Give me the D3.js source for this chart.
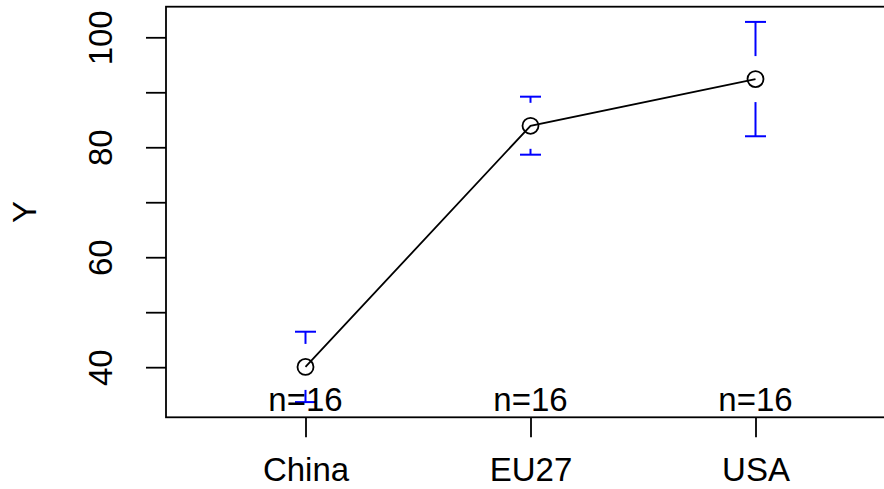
<!DOCTYPE html>
<html>
<head>
<meta charset="utf-8">
<script src="https://cdn.jsdelivr.net/npm/d3@7"></script>
<style>
  html, body { margin: 0; padding: 0; background: #fff; }
  svg { display: block; font-family: "Liberation Sans", Arial, Helvetica, sans-serif; }
</style>
</head>
<body>
<svg id="chart" width="884" height="489"></svg>
<script>
// Group means with 95% confidence intervals
const categories = ["China", "EU27", "USA"];
const means = [40.05, 83.9, 92.4];
const ciLower = [33.65, 78.65, 82.0];
const ciUpper = [46.45, 89.2, 102.8];
const counts = [16, 16, 16];
const yTicks = [40, 50, 60, 70, 80, 90, 100];
const yTickLabels = [40, 60, 80, 100];
const yTitle = "Y";

const plot = { left: 166, top: 6.7, bottom: 417.3, unit: 225 };
const fontSize = 33;
const lw = 1.8;

const svg = d3.select("#chart");

// x covers half a category either side, plus the usual 4% padding
const xLo = 0.5, xHi = categories.length + 0.5;
const xPad = (xHi - xLo) * 0.04;
const x = d3.scaleLinear()
  .domain([xLo - xPad, xHi + xPad])
  .range([plot.left, plot.left + (xHi - xLo + 2 * xPad) * plot.unit]);

const yMin = d3.min(ciLower), yMax = d3.max(ciUpper);
const yPad = (yMax - yMin) * 0.04;
const y = d3.scaleLinear()
  .domain([yMin - yPad, yMax + yPad])
  .range([plot.bottom, plot.top]);

const plotRight = x.range()[1];

// frame
svg.append("rect")
  .attr("x", plot.left).attr("y", plot.top)
  .attr("width", plotRight - plot.left).attr("height", plot.bottom - plot.top)
  .attr("fill", "none").attr("stroke", "#000").attr("stroke-width", lw);

// y axis
const yAxis = d3.axisLeft(y)
  .tickValues(yTicks)
  .tickSize(20)
  .tickFormat(d => yTickLabels.includes(d) ? d : "");
const gy = svg.append("g").attr("transform", `translate(${plot.left},0)`).call(yAxis);
gy.select(".domain").remove();
gy.selectAll(".tick line").attr("stroke", "#000").attr("stroke-width", lw);
gy.selectAll(".tick text")
  .attr("font-size", fontSize)
  .attr("font-family", "Liberation Sans, Arial, sans-serif")
  .attr("fill", "#000")
  .attr("x", 0).attr("dy", 0)
  .attr("text-anchor", "middle")
  .attr("transform", "translate(-66,0) rotate(-90) translate(0,12)");

// x axis
const xAxis = d3.axisBottom(x)
  .tickValues(d3.range(1, categories.length + 1))
  .tickSize(20)
  .tickFormat(d => categories[d - 1]);
const gx = svg.append("g").attr("transform", `translate(0,${plot.bottom})`).call(xAxis);
gx.select(".domain").remove();
gx.selectAll(".tick line").attr("stroke", "#000").attr("stroke-width", lw);
gx.selectAll(".tick text")
  .attr("font-size", fontSize)
  .attr("font-family", "Liberation Sans, Arial, sans-serif")
  .attr("fill", "#000")
  .attr("y", 64).attr("dy", 0);

// y title
svg.append("text")
  .attr("transform", `translate(36,${(plot.top + plot.bottom) / 2}) rotate(-90)`)
  .attr("text-anchor", "middle")
  .attr("font-size", fontSize)
  .text(yTitle);

const idx = d3.range(categories.length);
const gap = 23, cap = 10.5;

// confidence interval bars, gapped around the mean
const ci = svg.append("g").attr("stroke", "#0000ff").attr("stroke-width", 2).attr("fill", "none");
idx.forEach(i => {
  const cx = x(i + 1), cy = y(means[i]);
  const top = y(ciUpper[i]), bot = y(ciLower[i]);
  if (cy - gap > top) {
    ci.append("line").attr("x1", cx).attr("x2", cx).attr("y1", cy - gap).attr("y2", top);
  }
  ci.append("line").attr("x1", cx - cap).attr("x2", cx + cap).attr("y1", top).attr("y2", top);
  if (cy + gap < bot) {
    ci.append("line").attr("x1", cx).attr("x2", cx).attr("y1", cy + gap).attr("y2", bot);
  }
  ci.append("line").attr("x1", cx - cap).attr("x2", cx + cap).attr("y1", bot).attr("y2", bot);
});

// connecting line
const line = d3.line().x(i => x(i + 1)).y(i => y(means[i]));
svg.append("path")
  .attr("d", line(idx))
  .attr("fill", "none").attr("stroke", "#000").attr("stroke-width", lw);

// mean markers
svg.append("g").selectAll("circle").data(idx).join("circle")
  .attr("cx", i => x(i + 1)).attr("cy", i => y(means[i]))
  .attr("r", 8)
  .attr("fill", "none").attr("stroke", "#000").attr("stroke-width", lw);

// group sizes
svg.append("g").selectAll("text").data(idx).join("text")
  .attr("x", i => x(i + 1)).attr("y", 410.5)
  .attr("text-anchor", "middle")
  .attr("font-size", fontSize)
  .text(i => "n=" + counts[i]);
</script>
</body>
</html>
